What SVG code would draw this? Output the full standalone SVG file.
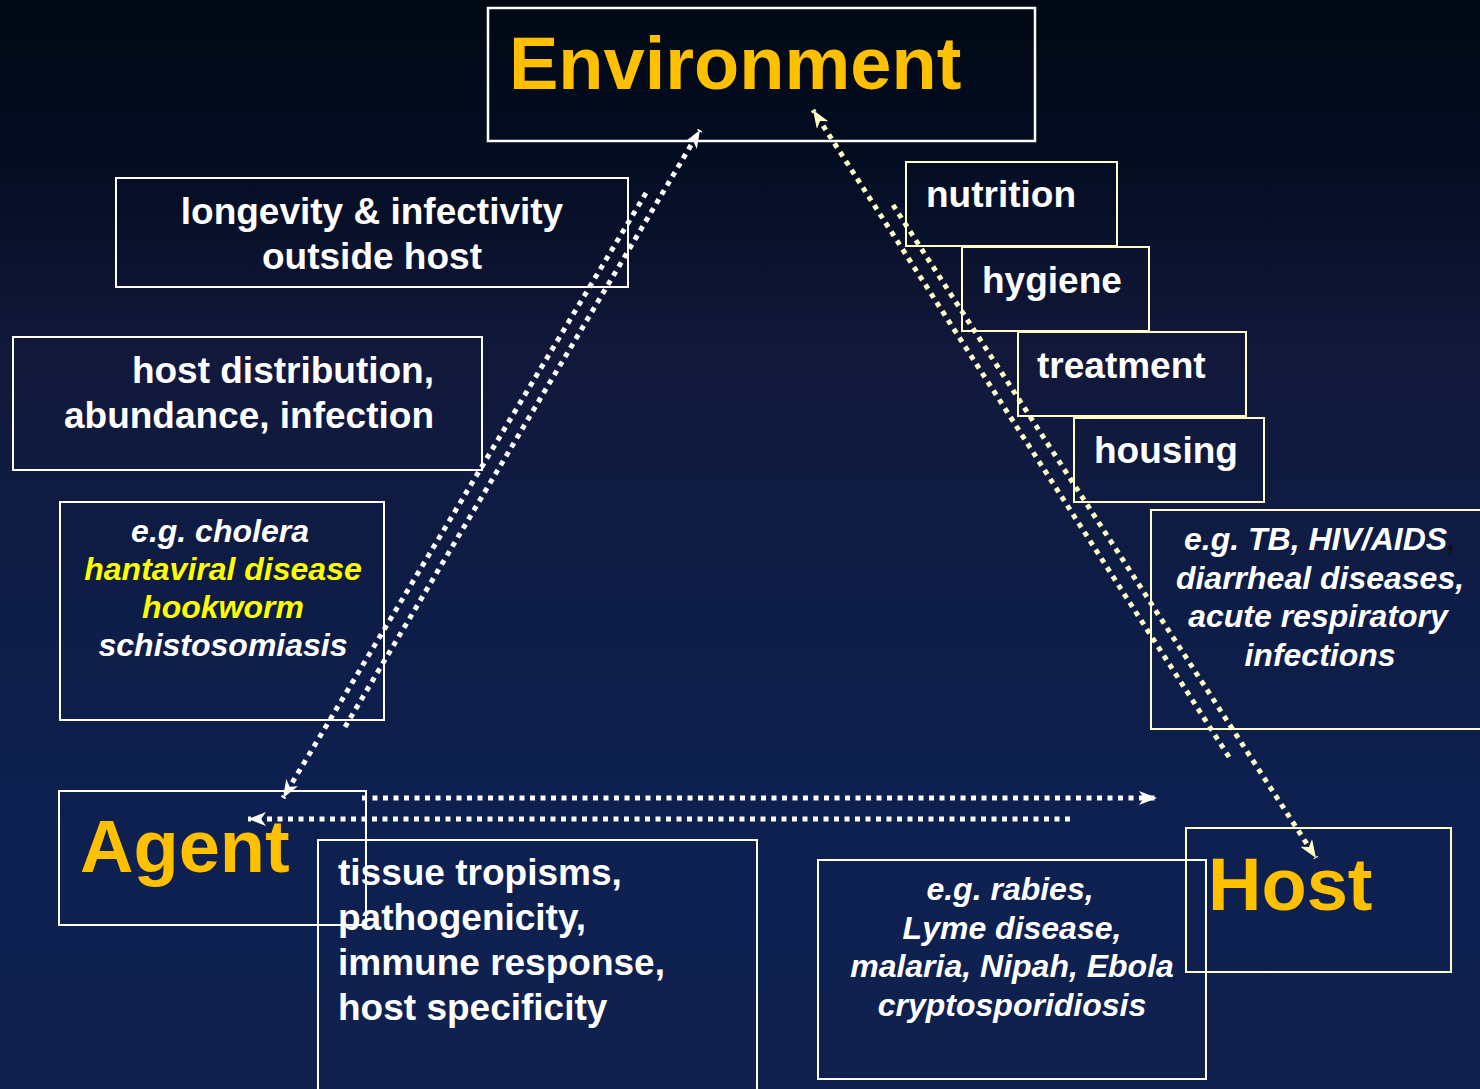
<svg xmlns="http://www.w3.org/2000/svg" width="1480" height="1089" viewBox="0 0 1480 1089">
<defs>
<linearGradient id="bg" x1="0" y1="0" x2="0" y2="1">
<stop offset="0" stop-color="#010914"/>
<stop offset="0.15" stop-color="#030d22"/>
<stop offset="0.32" stop-color="#12183a"/>
<stop offset="0.5" stop-color="#0e1c44"/>
<stop offset="0.75" stop-color="#0d2050"/>
<stop offset="1" stop-color="#10214f"/>
</linearGradient>
<marker id="aw" viewBox="0 0 18 14" refX="18" refY="7" markerWidth="18" markerHeight="14" markerUnits="userSpaceOnUse" orient="auto">
<path d="M0,0 L18,7 L0,14 L5,7 Z" fill="#ffffff"/>
</marker>
<marker id="ac" viewBox="0 0 18 14" refX="18" refY="7" markerWidth="18" markerHeight="14" markerUnits="userSpaceOnUse" orient="auto">
<path d="M0,0 L18,7 L0,14 L5,7 Z" fill="#ffffc8"/>
</marker>
</defs>
<style>
.bw{fill:none;stroke:#ffffff;stroke-width:2}
.bc{fill:none;stroke:#ffffc8;stroke-width:2}
.t{font-family:"Liberation Sans",Arial,sans-serif;font-weight:bold;fill:#ffffff}
.big{font-size:74px;fill:#ffc000}
.m{font-size:37px}
.i{font-size:32px;font-style:italic}
.y{fill:#ffff00}
.dw{fill:none;stroke:#ffffff;stroke-width:5;stroke-dasharray:5 5.5}
.dc{fill:none;stroke:#ffffc8;stroke-width:5;stroke-dasharray:5 5.5}
</style>
<rect x="0" y="0" width="1480" height="1089" fill="url(#bg)"/>

<g id="environment">
<rect class="bw" x="488" y="8" width="547" height="133" style="stroke-width:2.5"/>
<text class="t big" x="509" y="89">Environment</text>
</g>
<g id="longevity">
<rect class="bw" x="116" y="178" width="512" height="109"/>
<text class="t m" x="372" y="224" text-anchor="middle">longevity &amp; infectivity</text>
<text class="t m" x="372" y="269" text-anchor="middle">outside host</text>
</g>
<g id="host-distribution">
<rect class="bw" x="13" y="337" width="469" height="133"/>
<text class="t m" x="434" y="383" text-anchor="end">host distribution,</text>
<text class="t m" x="434" y="428" text-anchor="end">abundance, infection</text>
</g>
<g id="cholera">
<rect class="bw" x="60" y="502" width="324" height="218"/>
<text class="t i" x="220" y="542" text-anchor="middle">e.g. cholera</text>
<text class="t i y" x="223" y="580" text-anchor="middle">hantaviral disease</text>
<text class="t i y" x="223" y="618" text-anchor="middle">hookworm</text>
<text class="t i" x="223" y="656" text-anchor="middle">schistosomiasis</text>
</g>
<g id="nutrition">
<rect class="bc" x="906" y="162" width="211" height="84"/>
<text class="t m" x="926" y="207">nutrition</text>
</g>
<g id="hygiene">
<rect class="bc" x="962" y="247" width="187" height="84"/>
<text class="t m" x="982" y="293">hygiene</text>
</g>
<g id="treatment">
<rect class="bc" x="1018" y="332" width="228" height="84"/>
<text class="t m" x="1037" y="378">treatment</text>
</g>
<g id="housing">
<rect class="bc" x="1074" y="418" width="190" height="84"/>
<text class="t m" x="1094" y="463">housing</text>
</g>
<g id="tb">
<rect class="bc" x="1151" y="510" width="340" height="219"/>
<text class="t i" x="1320" y="550" text-anchor="middle">e.g. TB, HIV/AIDS<tspan fill="#111111">,</tspan></text>
<text class="t i" x="1320" y="589" text-anchor="middle">diarrheal diseases,</text>
<text class="t i" x="1318" y="627" text-anchor="middle">acute respiratory</text>
<text class="t i" x="1320" y="666" text-anchor="middle">infections</text>
</g>
<g id="agent">
<rect class="bw" x="59" y="791" width="307" height="134"/>
<text class="t big" x="80" y="872">Agent</text>
</g>
<g id="tissue">
<rect class="bw" x="318" y="840" width="439" height="260"/>
<text class="t m" x="338" y="885">tissue tropisms,</text>
<text class="t m" x="338" y="930">pathogenicity,</text>
<text class="t m" x="338" y="975">immune response,</text>
<text class="t m" x="338" y="1020">host specificity</text>
</g>
<g id="rabies">
<rect class="bw" x="818" y="860" width="388" height="219"/>
<text class="t i" x="1010" y="900" text-anchor="middle">e.g. rabies,</text>
<text class="t i" x="1012" y="939" text-anchor="middle">Lyme disease,</text>
<text class="t i" x="1012" y="977" text-anchor="middle">malaria, Nipah, Ebola</text>
<text class="t i" x="1012" y="1016" text-anchor="middle">cryptosporidiosis</text>
</g>
<g id="host">
<rect class="bc" x="1186" y="828" width="265" height="144"/>
<text class="t big" x="1208" y="910">Host</text>
</g>

<g id="connectors">
<line class="dw" x1="646" y1="193" x2="283" y2="798" marker-end="url(#aw)"/>
<line class="dw" x1="345" y1="727" x2="700" y2="130" marker-end="url(#aw)"/>
<line class="dc" x1="1229" y1="757" x2="813" y2="110" marker-end="url(#ac)"/>
<line class="dc" x1="893" y1="205" x2="1316" y2="858" marker-end="url(#ac)"/>
<line class="dw" x1="362" y1="798" x2="1157" y2="798" marker-end="url(#aw)"/>
<line class="dw" x1="1070" y1="819" x2="248" y2="819" marker-end="url(#aw)"/>
</g>
</svg>
